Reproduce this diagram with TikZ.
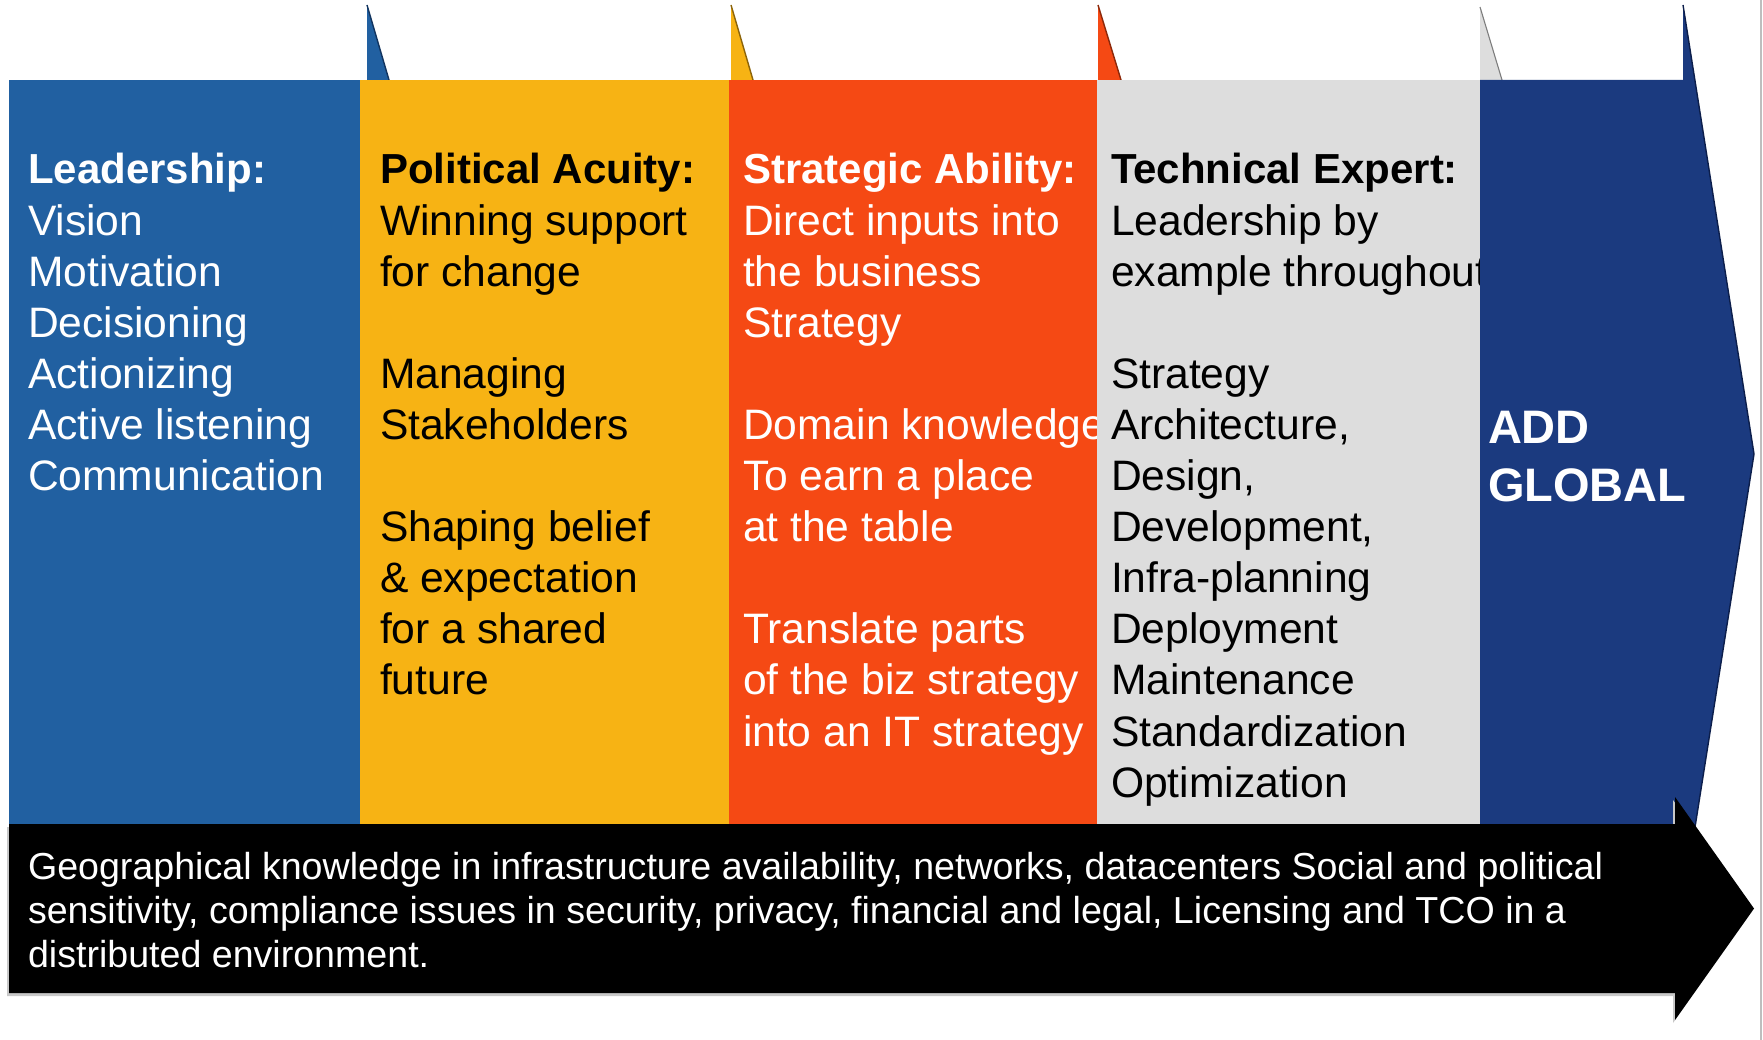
\documentclass[tikz,border=0pt]{standalone}
\usepackage{fontspec}
\setmainfont{Liberation Sans}
\definecolor{cblue}{RGB}{33,96,161}
\definecolor{cbluedk}{RGB}{18,52,95}
\definecolor{cyellow}{RGB}{247,179,20}
\definecolor{cyellowdk}{RGB}{140,100,10}
\definecolor{corange}{RGB}{245,73,20}
\definecolor{corangedk}{RGB}{140,40,10}
\definecolor{cgray}{RGB}{221,221,221}
\definecolor{cgraydk}{RGB}{125,125,125}
\definecolor{cnavy}{RGB}{27,58,127}
\definecolor{cnavydk}{RGB}{12,30,75}
\definecolor{cframe}{RGB}{190,190,190}
\definecolor{cshadow}{RGB}{200,200,200}
\newcommand\mycolfont{\fontsize{42.6}{51.1}\selectfont}
\newcommand\mytitle[1]{{\fontsize{42}{51.1}\selectfont\bfseries #1}}
\newcommand\myblank{\\[51.1pt]}
\begin{document}
\begin{tikzpicture}[x=1pt,y=-1pt,
  coltext/.style={anchor=base west, inner sep=0pt, outer sep=0pt},
  flagedge/.style={line width=1.4pt},
]
\useasboundingbox (0,0) rectangle (1763,1040);
\fill[white] (0,0) rectangle (1763,1040);
\draw[cframe, line width=1.2pt] (1761,0) -- (1761,1040);

% Column 1: blue
\fill[cblue] (9,80) rectangle (361,824);
\fill[cblue] (367,80) -- (367,5) -- (389,80) -- cycle;
\draw[cbluedk, flagedge] (367,5) -- (389,80);
\node[coltext, text=white] (lead) at (28,184) {\parbox[t]{420pt}{\raggedright\mycolfont
\mytitle{Leadership:}\\Vision\\Motivation\\Decisioning\\Actionizing\\Active listening\\Communication}};

% Column 2: yellow
\fill[cyellow] (360,80) rectangle (730,824);
\fill[cyellow] (731,80) -- (731,5) -- (753,80) -- cycle;
\draw[cyellowdk, flagedge] (731,5) -- (753,80);
\node[coltext, text=black] (pol) at (380,184) {\parbox[t]{420pt}{\raggedright\mycolfont
\mytitle{Political Acuity:}\\Winning support\\for change\myblank
Managing\\Stakeholders\myblank
Shaping belief\\\& expectation\\for a shared\\future}};

% Column 3: orange
\fill[corange] (729,80) rectangle (1098,824);
\fill[corange] (1098,80) -- (1098,5) -- (1121,80) -- cycle;
\draw[corangedk, flagedge] (1098,5) -- (1121,80);
\node[coltext, text=white] (strat) at (743,184) {\parbox[t]{420pt}{\raggedright\mycolfont
\mytitle{Strategic Ability:}\\Direct inputs into\\the business\\Strategy\myblank
Domain knowledge\\To earn a place\\at the table\myblank
Translate parts\\of the biz strategy\\into an IT strategy}};

% Column 4: gray
\fill[cgray] (1097,80) rectangle (1481,824);
\fill[cgray] (1480,80) -- (1480,7) -- (1502,80) -- cycle;
\draw[cgraydk, line width=1.1pt] (1480,7) -- (1502,80);
\node[coltext, text=black] (tech) at (1111,184) {\parbox[t]{420pt}{\raggedright\mycolfont
\mytitle{Technical Expert:}\\Leadership by\\example throughout\myblank
Strategy\\Architecture,\\Design,\\Development,\\Infra-planning\\Deployment\\Maintenance\\Standardization\\Optimization}};

% Column 5: navy arrow
\fill[cnavy] (1480,80) -- (1683,80) -- (1683,5) -- (1754,454) -- (1683,903) -- (1683,824) -- (1480,824) -- cycle;
\draw[cnavydk, flagedge, line join=miter] (1683,5) -- (1754,454) -- (1683,903);
\node[coltext, text=white] (global) at (1488,443) {\parbox[t]{260pt}{\raggedright\fontsize{47}{58}\selectfont\bfseries
ADD\\GLOBAL}};

% Bottom black arrow
\fill[cshadow] (7,827) -- (1673,827) -- (1673,800) -- (1752,911.5) -- (1673,1023) -- (1673,996) -- (7,996) -- cycle;
\fill[black] (9,824) -- (1675,824) -- (1675,797) -- (1754,908.5) -- (1675,1020) -- (1675,993) -- (9,993) -- cycle;
\node[coltext, text=white] (geo) at (28,879) {\parbox[t]{1700pt}{\raggedright\fontsize{37.6}{44}\selectfont
Geographical knowledge in infrastructure availability, networks, datacenters Social and political\\
sensitivity, compliance issues in security, privacy, financial and legal, Licensing and TCO in a\\
distributed environment.}};
\end{tikzpicture}
\end{document}
